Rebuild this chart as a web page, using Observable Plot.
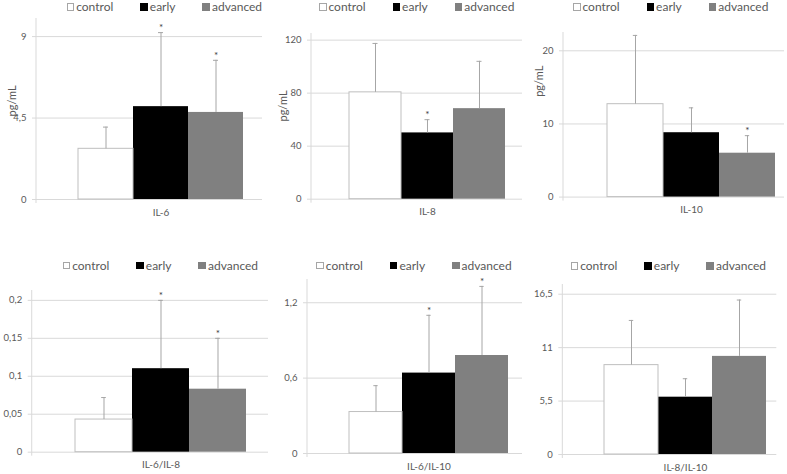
<!DOCTYPE html>
<html>
<head>
<meta charset="utf-8">
<script src="https://cdn.jsdelivr.net/npm/d3@7"></script>
<script src="https://cdn.jsdelivr.net/npm/@observablehq/plot@0.6"></script>
<style>
  body { margin: 0; background: #fff; }
  #chart { position: relative; width: 787px; height: 474px; overflow: hidden; font-family: Lato, "Open Sans", sans-serif; background: #fff; }
  #chart svg { position: absolute; }
  .legend { position: absolute; display: flex; align-items: center; gap: 27px; font-size: 12px; color: #595959; white-space: nowrap; line-height: 14.4px; }
  .legend .item { display: flex; align-items: center; }
  .legend i { display: inline-block; width: 7.5px; height: 7.5px; margin-right: 2px; box-sizing: border-box; }
</style>
</head>
<body>
<div id="chart"></div>
<script>
// Groups and their bar colours
const groups = ["control", "early", "advanced"];
const groupFill = ["#ffffff", "#000000", "#808080"];

// Panel titles (x labels)
const panelNames = ["IL-6", "IL-8", "IL-10", "IL-6/IL-8", "IL-6/IL-10", "IL-8/IL-10"];

// Means, SD (upper error bar) and significance marks per group
const il6Mean = [2.8, 5.13, 4.81];
const il6Err = [1.2, 4.09, 2.88];
const il6Sig = [false, true, true];

const il8Mean = [80.6, 50.0, 68.3];
const il8Err = [36.9, 10.0, 35.7];
const il8Sig = [false, true, false];

const il10Mean = [12.7, 8.8, 6.0];
const il10Err = [9.4, 3.4, 2.4];
const il10Sig = [false, false, true];

const il6il8Mean = [0.043, 0.11, 0.083];
const il6il8Err = [0.029, 0.09, 0.067];
const il6il8Sig = [false, true, true];

const il6il10Mean = [0.33, 0.64, 0.78];
const il6il10Err = [0.21, 0.46, 0.55];
const il6il10Sig = [false, true, true];

const il8il10Mean = [9.2, 5.9, 10.1];
const il8il10Err = [4.6, 1.9, 5.8];
const il8il10Sig = [false, false, false];

// y tick values and axis maxima
const il6Ticks = [0, 4.5, 9];
const il8Ticks = [0, 40, 80, 120];
const il10Ticks = [0, 10, 20];
const il6il8Ticks = [0, 0.05, 0.1, 0.15, 0.2];
const il6il10Ticks = [0, 0.6, 1.2];
const il8il10Ticks = [0, 5.5, 11, 16.5];
const yMaxes = [10, 125, 22.5, 0.213, 1.385, 17.5];

const unitLabel = "pg/mL";

const series = [
  [il6Mean, il6Err, il6Sig, il6Ticks],
  [il8Mean, il8Err, il8Sig, il8Ticks],
  [il10Mean, il10Err, il10Sig, il10Ticks],
  [il6il8Mean, il6il8Err, il6il8Sig, il6il8Ticks],
  [il6il10Mean, il6il10Err, il6il10Sig, il6il10Ticks],
  [il8il10Mean, il8il10Err, il8il10Sig, il8il10Ticks]
];

// Page layout of each small chart (pixels)
const layout = [
  {left: 0,   axisX: 36,    right: 262,   top: 18,    zero: 199,   bars: [78.3, 243.3],  unit: [8, 116],   legend: [66.7, 0]},
  {left: 262, axisX: 311,   right: 522,   top: 33,    zero: 198.7, bars: [349.3, 505.3], unit: [279, 121], legend: [319, 0]},
  {left: 524, axisX: 563,   right: 784,   top: 31.7,  zero: 196.3, bars: [605.7, 775.7], unit: [535, 96],  legend: [573, 0]},
  {left: 0,   axisX: 31.7,  right: 268,   top: 290,   zero: 451.7, bars: [74, 246],      unit: null,       legend: [62.7, 258.5]},
  {left: 262, axisX: 307,   right: 522,   top: 279.3, zero: 453.3, bars: [348, 509],     unit: null,       legend: [316.3, 258.5]},
  {left: 524, axisX: 562.3, right: 776.3, top: 284.3, zero: 454.3, bars: [603.3, 767],   unit: null,       legend: [570.7, 259]}
];

const comma = d => String(d).replace(".", ",");
const chart = document.getElementById("chart");

series.forEach(([means, errs, sigs, ticks], p) => {
  const L = layout[p];
  const rows = groups.map((g, i) => ({group: g, mean: means[i], err: errs[i], star: sigs[i]}));
  const svgTop = L.top - 12;
  const width = 263;
  const marginTop = 12;
  const marginBottom = 22;
  const height = L.zero + marginBottom - svgTop;
  const marginLeft = L.axisX - 4 - L.left;
  const marginRight = L.left + width - L.right;
  const bw = (L.bars[1] - L.bars[0]) / 3;
  const capInset = (bw - 5) / 2;
  const grid = "#d9d9d9";
  const errColor = "#a6a6a6";

  // vertical value axis line
  const axisLine = () => {
    const line = d3.create("svg:line")
      .attr("x1", marginLeft + 4).attr("x2", marginLeft + 4)
      .attr("y1", marginTop).attr("y2", height - marginBottom + 4)
      .attr("stroke", grid);
    return line.node();
  };

  const marks = [
    Plot.ruleY(ticks, {stroke: grid}),
    Plot.barY(rows, {x: "group", y: "mean", fill: "group"}),
    Plot.barY(rows.filter(d => d.group === "control"), {x: "group", y: "mean", fill: "none", stroke: "#bfbfbf"}),
    Plot.ruleX(rows, {x: "group", y1: "mean", y2: d => d.mean + d.err, stroke: errColor}),
    Plot.tickY(rows, {x: "group", y: d => d.mean + d.err, stroke: errColor, insetLeft: capInset, insetRight: capInset}),
    Plot.text(rows.filter(d => d.star), {x: "group", y: d => d.mean + d.err, text: () => "*", dy: -5, fontSize: 10, fill: "#404040"}),
    Plot.text(ticks, {y: d => d, frameAnchor: "left", text: comma, textAnchor: "end", dx: -6, fontSize: 9.5, fill: "#595959"}),
    axisLine,
    Plot.text([panelNames[p]], {x: () => "early", y: () => 0, dy: 13, fill: "#595959"})
  ];
  if (L.unit) {
    marks.push(Plot.text([unitLabel], {
      frameAnchor: "top-left", rotate: -90, fontSize: 11, fill: "#595959",
      dx: L.unit[0] - (L.left + marginLeft), dy: L.unit[1] - (svgTop + marginTop)
    }));
  }

  const svg = Plot.plot({
    width, height, marginTop, marginBottom, marginLeft, marginRight,
    style: {fontFamily: "Lato, 'Open Sans', sans-serif", fontSize: "10px", background: "transparent", overflow: "visible"},
    x: {type: "band", domain: groups, range: [L.bars[0] - L.left, L.bars[1] - L.left], padding: 0, axis: null},
    y: {domain: [0, yMaxes[p]], axis: null},
    color: {domain: groups, range: groupFill},
    marks
  });
  svg.style.left = L.left + "px";
  svg.style.top = svgTop + "px";
  chart.appendChild(svg);

  // legend
  const lg = document.createElement("div");
  lg.className = "legend";
  lg.style.left = L.legend[0] + "px";
  lg.style.top = L.legend[1] + "px";
  groups.forEach((g, i) => {
    const item = document.createElement("span");
    item.className = "item";
    const box = document.createElement("i");
    box.style.background = groupFill[i];
    if (i === 0) box.style.border = "1px solid #a6a6a6";
    item.appendChild(box);
    item.appendChild(document.createTextNode(g));
    lg.appendChild(item);
  });
  chart.appendChild(lg);
});
</script>
</body>
</html>
